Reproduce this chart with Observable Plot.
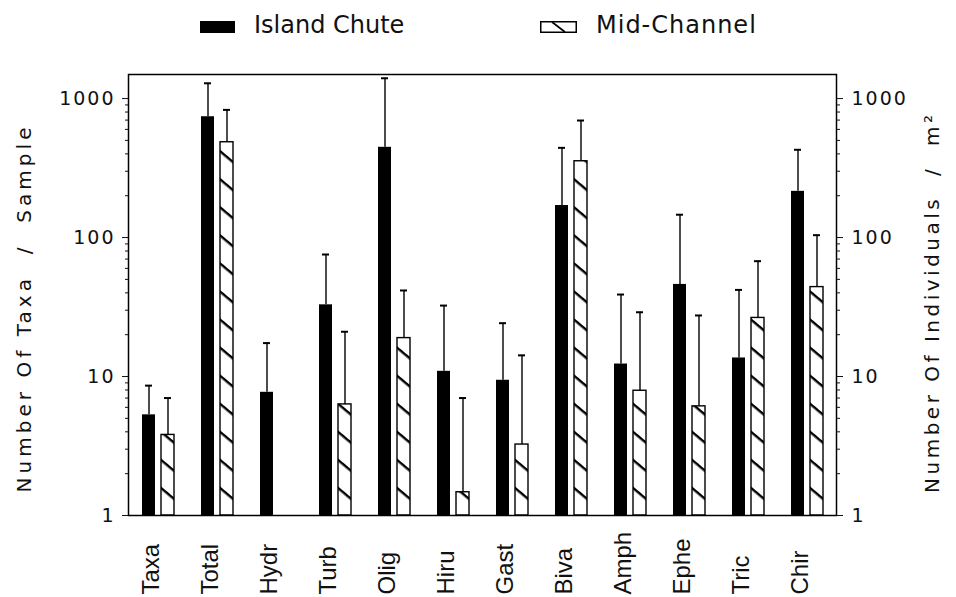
<!DOCTYPE html>
<html><head><meta charset="utf-8">
<script src="https://cdn.jsdelivr.net/npm/d3@7"></script>
<script src="https://cdn.jsdelivr.net/npm/@observablehq/plot@0.6"></script>
<style>
body{margin:0;background:#fff;font-family:"Liberation Sans",sans-serif;color:#111;}
#legend{position:relative;height:60px;width:956px;}
.sw{position:absolute;top:21px;width:35px;height:12px;box-sizing:border-box;}
.lt{position:absolute;top:12px;font-family:"DejaVu Sans",sans-serif;font-size:24px;line-height:26px;color:#111;}
#chart svg{font-family:"Liberation Sans",sans-serif;}
[aria-label="y-axis tick label"] text{font-family:"DejaVu Sans",sans-serif;font-size:19px;letter-spacing:2px;}
[aria-label="y-axis label"] text{font-family:"DejaVu Sans",sans-serif;font-size:20px;white-space:pre;}
</style></head><body>
<div id="legend">
 <div class="sw" style="left:200px;background:#000"></div>
 <span class="lt" style="left:254px">Island Chute</span>
 <svg class="sw" style="left:540px;width:37px" width="37" height="12" viewBox="0 0 37 12"><rect x="0.75" y="0.75" width="35.5" height="10.5" fill="#fff" stroke="#000" stroke-width="1.5"/><line x1="12" y1="1" x2="25" y2="11" stroke="#000" stroke-width="1.6"/></svg>
 <span class="lt" style="left:596px;letter-spacing:1px">Mid-Channel</span>
</div>
<div id="chart"></div>
<script>
const categories = ["Taxa","Total","Hydr","Turb","Olig","Hiru","Gast","Biva","Amph","Ephe","Tric","Chir"];
const series = ["Island Chute","Mid-Channel"];
const islandMean  = [5.3, 740, 7.7, 32.8, 446, 10.9, 9.4, 170, 12.3, 46, 13.6, 215];
const islandUpper = [8.6, 1288, 17.4, 75.5, 1400, 32.4, 24.2, 442, 38.9, 146, 42, 428];
const midMean  = [3.8, 485, null, 6.3, 18.9, 1.47, 3.24, 354, 7.9, 6.1, 26.4, 44];
const midUpper = [7.0, 829, null, 21, 41.6, 7.0, 14.2, 695, 29, 27.5, 67.6, 104];
const yMajorTicks = [1, 10, 100, 1000];
const yMinorTicks = [2,3,4,5,6,7,8,9,20,30,40,50,60,70,80,90,200,300,400,500,600,700,800,900];
const leftTitle = "Number Of Taxa \u00a0/\u00a0 Sample";
const rightTitle = "Number Of Individuals \u00a0/\u00a0 m²";

const rows = [];
categories.forEach((c, i) => {
  rows.push({cat: c, series: series[0], mean: islandMean[i], upper: islandUpper[i]});
  if (midMean[i] != null) rows.push({cat: c, series: series[1], mean: midMean[i], upper: midUpper[i]});
});
const ic = rows.filter(d => d.series === series[0]);
const mc = rows.filter(d => d.series === series[1]);

const chart = Plot.plot({
  width: 956, height: 537,
  marginTop: 14, marginBottom: 82, marginLeft: 127, marginRight: 119,
  fx: {domain: categories, padding: 0, axis: null},
  x: {domain: series, paddingInner: 0.325, paddingOuter: 0.64, axis: null},
  y: {type: "log", domain: [1, 1490]},
  marks: [
    Plot.barY(ic, {fx: "cat", x: "series", y1: 1, y2: "mean", fill: "#000"}),
    Plot.barY(mc, {fx: "cat", x: "series", y1: 1, y2: "mean", fill: "url(#hatch)", stroke: "#000", strokeWidth: 1.4}),
    Plot.ruleX(rows, {fx: "cat", x: "series", y1: "mean", y2: "upper", stroke: "#000", strokeWidth: 1.4}),
    Plot.tickY(rows, {fx: "cat", x: "series", y: "upper", stroke: "#000", strokeWidth: 2, insetLeft: 3, insetRight: 3}),
    Plot.frame({facet: "super", stroke: "#000", strokeWidth: 1.5}),
    Plot.axisY({anchor: "left", ticks: yMajorTicks, tickSize: 6, tickPadding: 7, tickFormat: d => String(d), label: leftTitle, labelArrow: "none", labelAnchor: "center", labelOffset: 112}),
    Plot.axisY({anchor: "left", ticks: yMinorTicks, tickSize: 3, tickFormat: () => "", label: null}),
    Plot.axisY({anchor: "right", ticks: yMajorTicks, tickSize: 6, tickPadding: 9, tickFormat: d => String(d), label: rightTitle, labelArrow: "none", labelAnchor: "center", labelOffset: 102}),
    Plot.axisY({anchor: "right", ticks: yMinorTicks, tickSize: 3, tickFormat: () => "", label: null}),
    Plot.text(categories, {fx: d => d, text: d => d, frameAnchor: "bottom", rotate: -90, textAnchor: "start", lineAnchor: "middle", dy: 79, dx: -7, fontSize: 24, fill: "#111"})
  ]
});

const svg = d3.select(chart);
const defs = svg.insert("defs", ":first-child");
const pat = defs.append("pattern").attr("id", "hatch").attr("patternUnits", "userSpaceOnUse")
  .attr("width", 10).attr("height", 21.5).attr("patternTransform", "rotate(40)");
pat.append("rect").attr("width", 10).attr("height", 21.5).attr("fill", "#fff");
pat.append("line").attr("x1", 0).attr("x2", 10).attr("y1", 10).attr("y2", 10).attr("stroke", "#000").attr("stroke-width", 2.4);
svg.selectAll('[aria-label="y-axis label"] text').each(function() {
  const t = d3.select(this);
  if (t.text() === leftTitle) t.attr("textLength", 365).attr("lengthAdjust", "spacing").attr("dx", -15);
  else t.attr("textLength", 378).attr("lengthAdjust", "spacing").attr("dx", -9);
});
document.getElementById("chart").appendChild(chart);
</script>
</body></html>
